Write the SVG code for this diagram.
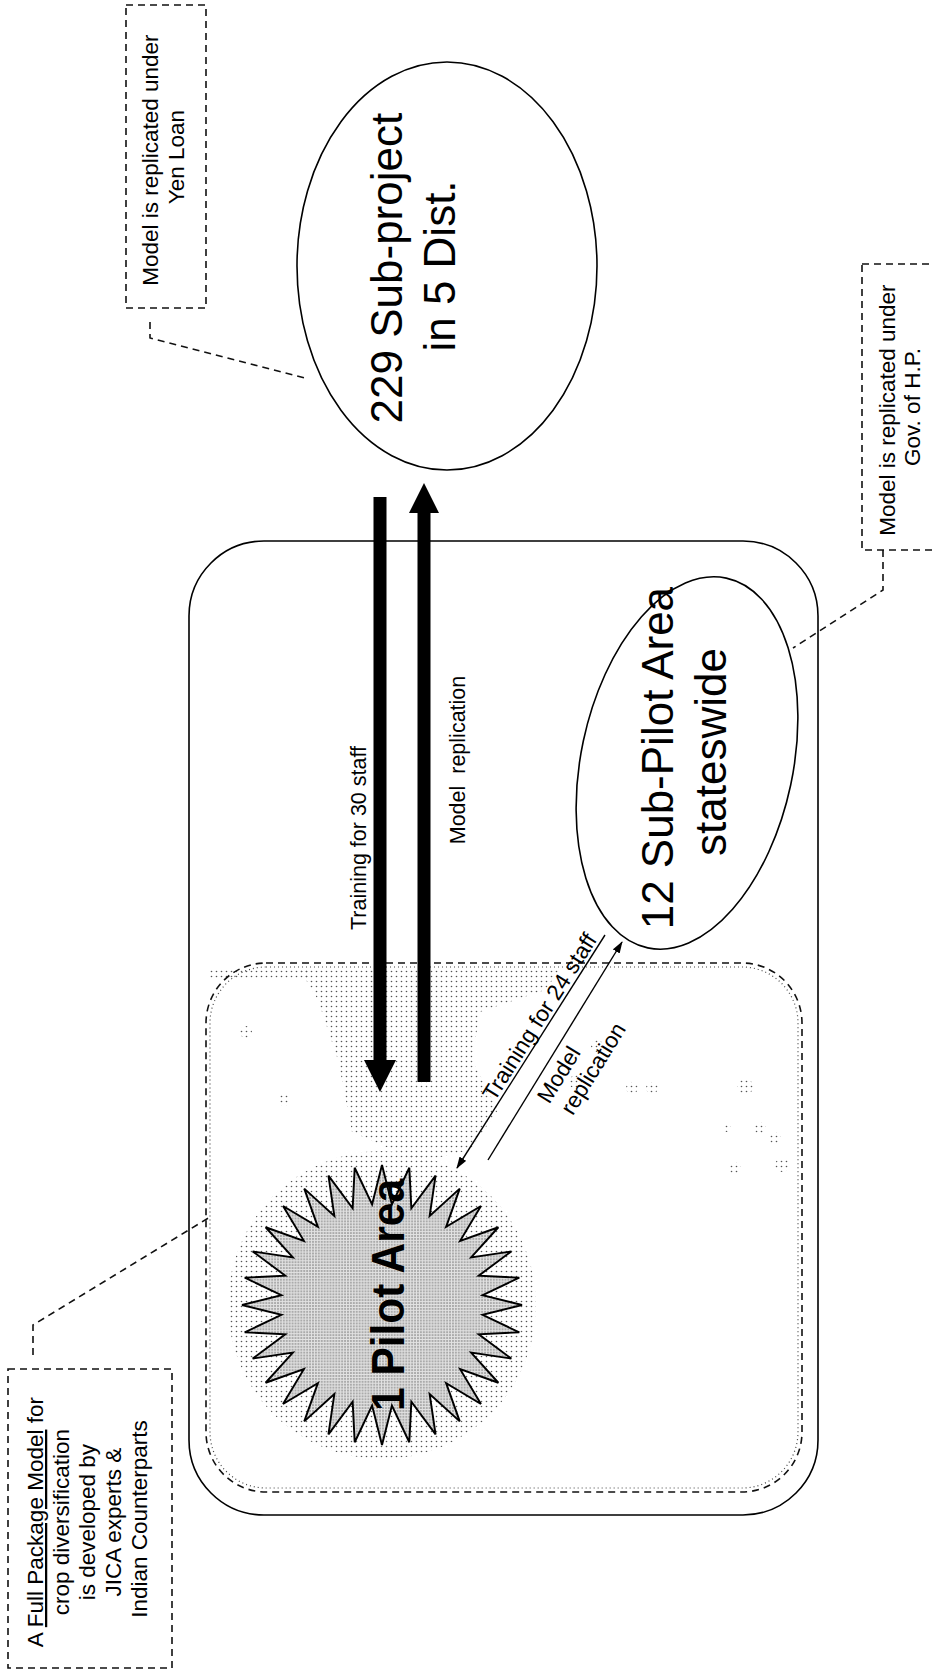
<svg xmlns="http://www.w3.org/2000/svg" width="932" height="1672" viewBox="0 0 932 1672">
<defs>
<style>
.t{font-family:"Liberation Sans",Arial,sans-serif;fill:#000}
.s22{font-size:22.5px}
.s21{font-size:21.5px}
.s44{font-size:44px}
.dash{fill:none;stroke:#111;stroke-width:1.6;stroke-dasharray:7 5}
.solid{fill:none;stroke:#000;stroke-width:1.6}
.thin{fill:none;stroke:#000;stroke-width:1.4}
</style>
<pattern id="sparse" width="5" height="5" patternUnits="userSpaceOnUse">
<circle cx="1.5" cy="1.5" r="0.8" fill="#555"/>
</pattern>
<pattern id="dense" width="3" height="3" patternUnits="userSpaceOnUse">
<rect width="3" height="3" fill="#e2e2e2"/>
<circle cx="1" cy="1" r="0.8" fill="#666"/>
</pattern>
<marker id="ah" viewBox="0 0 12 8" refX="11" refY="4" markerWidth="12" markerHeight="8" markerUnits="userSpaceOnUse" orient="auto">
<path d="M0,0 L12,4 L0,8 z" fill="#000"/>
</marker>
</defs>
<rect width="932" height="1672" fill="#fff"/>

<g id="outer-area">
<rect x="189" y="541" width="629" height="974" rx="75" ry="75" class="solid"/>
</g>

<g id="pilot-zone">
<path d="M300,970 L560,970 L545,990 L480,1012 L472,1060 L498,1110 L470,1150 L420,1162 L352,1132 L338,1060 L318,1000 Z" fill="url(#sparse)"/>
<rect x="210" y="969" width="100" height="10" fill="url(#sparse)"/>
<g fill="url(#sparse)">
<circle cx="246" cy="1032" r="6"/>
<circle cx="284" cy="1100" r="6"/>
<circle cx="576" cy="1082" r="7"/>
<circle cx="597" cy="1046" r="6"/>
<circle cx="632" cy="1088" r="6"/>
<circle cx="652" cy="1088" r="6"/>
<circle cx="745" cy="1087" r="8"/>
<circle cx="760" cy="1128" r="6"/>
<circle cx="775" cy="1138" r="6"/>
<circle cx="735" cy="1168" r="6"/>
<circle cx="727" cy="1128" r="4"/>
<circle cx="782" cy="1165" r="7"/>
</g>
<rect x="206" y="963" width="596" height="529" rx="60" ry="60" class="dash" stroke-width="1.4"/>
<rect x="210" y="967" width="588" height="521" rx="56" ry="56" fill="none" stroke="#444" stroke-width="1.2" stroke-dasharray="1 3"/>
</g>

<g id="node-pilot-area">
<circle cx="382" cy="1305" r="154" fill="url(#sparse)"/>
<g transform="translate(382,1305) scale(0.972)">
<polygon fill="url(#dense)" stroke="#000" stroke-width="2" stroke-linejoin="miter" points="144,0 103.5,10.19 141.23,28.09 99.52,30.19 133.04,55.11 91.72,49.03 119.73,80 80.39,65.98 101.82,101.82 65.98,80.39 80,119.73 49.03,91.72 55.11,133.04 30.19,99.52 28.09,141.23 10.19,103.5 0,144 -10.19,103.5 -28.09,141.23 -30.19,99.52 -55.11,133.04 -49.03,91.72 -80,119.73 -65.98,80.39 -101.82,101.82 -80.39,65.98 -119.73,80 -91.72,49.03 -133.04,55.11 -99.52,30.19 -141.23,28.09 -103.5,10.19 -144,0 -103.5,-10.19 -141.23,-28.09 -99.52,-30.19 -133.04,-55.11 -91.72,-49.03 -119.73,-80 -80.39,-65.98 -101.82,-101.82 -65.98,-80.39 -80,-119.73 -49.03,-91.72 -55.11,-133.04 -30.19,-99.52 -28.09,-141.23 -10.19,-103.5 0,-144 10.19,-103.5 28.09,-141.23 30.19,-99.52 55.11,-133.04 49.03,-91.72 80,-119.73 65.98,-80.39 101.82,-101.82 80.39,-65.98 119.73,-80 91.72,-49.03 133.04,-55.11 99.52,-30.19 141.23,-28.09 103.5,-10.19"/>
</g>
<text class="t" font-size="46" font-weight="bold" text-anchor="middle" transform="translate(404,1295) rotate(-90)" textLength="232" lengthAdjust="spacingAndGlyphs">1 Pilot Area</text>
</g>

<g id="node-subproject">
<ellipse cx="447" cy="266" rx="150" ry="204" class="solid"/>
<text class="t s44" text-anchor="middle" transform="translate(402,262) rotate(-90)">
<tspan x="0" y="0">229 Sub-project</tspan>
<tspan x="-4" y="53">in 5 Dist.</tspan>
</text>
</g>

<g id="node-subpilot">
<ellipse cx="0" cy="0" rx="106" ry="189" class="solid" transform="translate(687,763) rotate(12)"/>
<text class="t s44" text-anchor="middle" transform="translate(673,752) rotate(-90)">
<tspan x="0" y="0">12 Sub-Pilot Area</tspan>
<tspan x="0" y="53">stateswide</tspan>
</text>
</g>

<g id="note-yen-loan">
<rect x="126" y="5" width="80" height="303" class="dash"/>
<text class="t s22" text-anchor="middle" transform="translate(158,157) rotate(-90)">
<tspan x="0" y="0">Model is replicated under</tspan>
<tspan x="0" y="26">Yen Loan</tspan>
</text>
</g>

<g id="note-gov-hp">
<rect x="862" y="264" width="90" height="286" class="dash"/>
<text class="t s22" text-anchor="middle" transform="translate(895,407) rotate(-90)">
<tspan x="0" y="0">Model is replicated under</tspan>
<tspan x="0" y="25">Gov. of H.P.</tspan>
</text>
</g>

<g id="note-full-package">
<rect x="8" y="1369" width="164" height="299" class="dash"/>
<text class="t s22" text-anchor="middle" transform="translate(43,1519) rotate(-90)">
<tspan x="0" y="0">A <tspan text-decoration="underline">Full Package Model</tspan> for</tspan>
<tspan x="0" y="26">crop diversification</tspan>
<tspan x="0" y="52">is developed by</tspan>
<tspan x="0" y="78">JICA experts &amp;</tspan>
<tspan x="0" y="104">Indian Counterparts</tspan>
</text>
</g>

<g id="connectors">
<path d="M150,322 V338 L305,378" class="dash"/>
<path d="M883,550 V590 L793,648" class="dash"/>
<path d="M33,1355 V1325 L210,1217" class="dash"/>
<path d="M373.5,497 H386.5 V1060 H396 L380,1092 L364,1060 H373.5 Z" fill="#000"/>
<path d="M417.5,1082 V513 H409 L424,483 L439,513 H430.5 V1082 Z" fill="#000"/>
<line x1="605" y1="935" x2="457" y2="1168" class="thin" marker-end="url(#ah)"/>
<line x1="488" y1="1160" x2="622" y2="942" class="thin" marker-end="url(#ah)"/>
<text class="t s21" text-anchor="middle" transform="translate(366,838) rotate(-90)">Training for 30 staff</text>
<text class="t s21" text-anchor="middle" style="white-space:pre" transform="translate(465,760) rotate(-90)">Model  replication</text>
<text class="t s22" text-anchor="middle" transform="translate(546,1021) rotate(-57.6)">Training for 24 staff</text>
<text class="t s22" text-anchor="middle" transform="translate(567,1076) rotate(-58.4)">
<tspan x="0" y="0">Model</tspan>
<tspan x="20" y="26">replication</tspan>
</text>
</g>
</svg>
